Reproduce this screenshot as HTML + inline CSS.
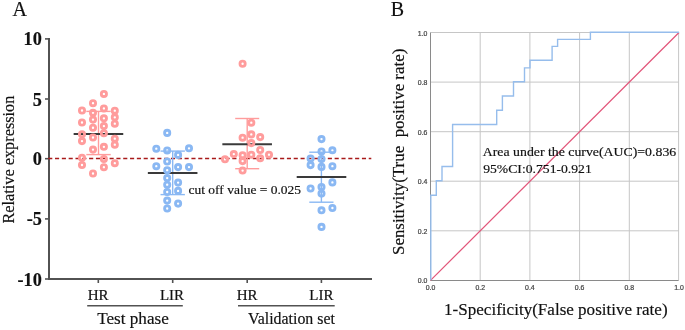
<!DOCTYPE html>
<html><head><meta charset="utf-8"><style>
html,body{margin:0;padding:0;background:#fff;}
svg{display:block;filter:blur(0.4px);}
text{font-family:"Liberation Serif",serif;fill:#111;stroke:#111;stroke-width:0.18px;}
.tk{font-family:"Liberation Sans",sans-serif;font-size:6.9px;fill:#444;stroke:#444;stroke-width:0.22px;}
</style></head><body>
<svg width="685" height="330" viewBox="0 0 685 330">
<rect width="685" height="330" fill="#fff"/>
<line x1="49" y1="38" x2="49" y2="280" stroke="#525252" stroke-width="2"/><line x1="48" y1="279" x2="372" y2="279" stroke="#525252" stroke-width="2"/><line x1="45" y1="38.9" x2="49" y2="38.9" stroke="#525252" stroke-width="1.6"/><line x1="45" y1="99.0" x2="49" y2="99.0" stroke="#525252" stroke-width="1.6"/><line x1="45" y1="158.7" x2="49" y2="158.7" stroke="#525252" stroke-width="1.6"/><line x1="45" y1="218.9" x2="49" y2="218.9" stroke="#525252" stroke-width="1.6"/><line x1="45" y1="279.0" x2="49" y2="279.0" stroke="#525252" stroke-width="1.6"/><line x1="98.3" y1="279" x2="98.3" y2="283" stroke="#525252" stroke-width="1.6"/><line x1="172.7" y1="279" x2="172.7" y2="283" stroke="#525252" stroke-width="1.6"/><line x1="247.2" y1="279" x2="247.2" y2="283" stroke="#525252" stroke-width="1.6"/><line x1="321.4" y1="279" x2="321.4" y2="283" stroke="#525252" stroke-width="1.6"/><text x="41.8" y="45.4" text-anchor="end" font-weight="bold" font-size="18.2">10</text><text x="41.8" y="105.5" text-anchor="end" font-weight="bold" font-size="18.2">5</text><text x="41.8" y="165.2" text-anchor="end" font-weight="bold" font-size="18.2">0</text><text x="41.8" y="225.4" text-anchor="end" font-weight="bold" font-size="18.2">-5</text><text x="41.8" y="285.5" text-anchor="end" font-weight="bold" font-size="18.2">-10</text><line x1="48.2" y1="158.5" x2="371.3" y2="158.5" stroke="#a81a1a" stroke-width="1.7" stroke-dasharray="4.1 2.72"/><g stroke="#ff9c9c" stroke-width="1.4" fill="none"><line x1="98.5" y1="111.4" x2="98.5" y2="154.6"/><line x1="86.3" y1="111.4" x2="110.7" y2="111.4"/><line x1="86.3" y1="154.6" x2="110.7" y2="154.6"/></g><g stroke="#8ab8f3" stroke-width="1.4" fill="none"><line x1="172.7" y1="151.1" x2="172.7" y2="194.6"/><line x1="160.5" y1="151.1" x2="184.89999999999998" y2="151.1"/><line x1="160.5" y1="194.6" x2="184.89999999999998" y2="194.6"/></g><g stroke="#ff9c9c" stroke-width="1.4" fill="none"><line x1="247.2" y1="118.5" x2="247.2" y2="168.7"/><line x1="235.2" y1="118.5" x2="259.2" y2="118.5"/><line x1="235.2" y1="168.7" x2="259.2" y2="168.7"/></g><g stroke="#8ab8f3" stroke-width="1.4" fill="none"><line x1="321.4" y1="152.2" x2="321.4" y2="202.2"/><line x1="309.29999999999995" y1="152.2" x2="333.5" y2="152.2"/><line x1="309.29999999999995" y1="202.2" x2="333.5" y2="202.2"/></g><line x1="73.65" y1="134.0" x2="123.25" y2="134.0" stroke="#3a3a3a" stroke-width="2"/><line x1="147.85" y1="173.0" x2="197.45000000000002" y2="173.0" stroke="#3a3a3a" stroke-width="2"/><line x1="222.35" y1="144.2" x2="271.95" y2="144.2" stroke="#3a3a3a" stroke-width="2"/><line x1="296.7" y1="176.9" x2="346.3" y2="176.9" stroke="#3a3a3a" stroke-width="2"/><g fill="none" stroke="#ff9c9c" stroke-width="2.85"><circle cx="82.0" cy="110.5" r="2.6"/><circle cx="82.0" cy="122.5" r="2.6"/><circle cx="82.0" cy="134.2" r="2.6"/><circle cx="82.0" cy="141.1" r="2.6"/><circle cx="82.0" cy="157.7" r="2.6"/><circle cx="82.0" cy="165.0" r="2.6"/><circle cx="93.0" cy="103.2" r="2.6"/><circle cx="93.0" cy="112.7" r="2.6"/><circle cx="93.0" cy="119.6" r="2.6"/><circle cx="93.0" cy="127.7" r="2.6"/><circle cx="93.0" cy="137.5" r="2.6"/><circle cx="93.0" cy="149.6" r="2.6"/><circle cx="93.0" cy="173.5" r="2.6"/><circle cx="103.9" cy="93.9" r="2.6"/><circle cx="103.9" cy="108.4" r="2.6"/><circle cx="103.9" cy="118.3" r="2.6"/><circle cx="103.9" cy="126.1" r="2.6"/><circle cx="103.9" cy="133.2" r="2.6"/><circle cx="103.9" cy="146.8" r="2.6"/><circle cx="103.9" cy="159.0" r="2.6"/><circle cx="103.9" cy="167.2" r="2.6"/><circle cx="114.8" cy="110.7" r="2.6"/><circle cx="114.8" cy="117.3" r="2.6"/><circle cx="114.8" cy="123.7" r="2.6"/><circle cx="114.8" cy="138.7" r="2.6"/><circle cx="114.8" cy="144.7" r="2.6"/><circle cx="114.8" cy="163.2" r="2.6"/></g><g fill="none" stroke="#8ab8f3" stroke-width="2.85"><circle cx="156.3" cy="148.7" r="2.6"/><circle cx="156.3" cy="166.2" r="2.6"/><circle cx="167.2" cy="132.9" r="2.6"/><circle cx="167.2" cy="150.5" r="2.6"/><circle cx="167.2" cy="161.5" r="2.6"/><circle cx="167.2" cy="170.2" r="2.6"/><circle cx="167.2" cy="178.1" r="2.6"/><circle cx="167.2" cy="184.7" r="2.6"/><circle cx="167.2" cy="192.0" r="2.6"/><circle cx="167.2" cy="200.6" r="2.6"/><circle cx="167.2" cy="208.5" r="2.6"/><circle cx="178.1" cy="154.9" r="2.6"/><circle cx="178.1" cy="167.1" r="2.6"/><circle cx="178.1" cy="182.6" r="2.6"/><circle cx="178.1" cy="190.9" r="2.6"/><circle cx="178.1" cy="203.6" r="2.6"/><circle cx="189.0" cy="148.3" r="2.6"/><circle cx="189.0" cy="167.1" r="2.6"/></g><g fill="none" stroke="#ff9c9c" stroke-width="2.85"><circle cx="225.0" cy="159.3" r="2.6"/><circle cx="233.8" cy="154.1" r="2.6"/><circle cx="242.6" cy="63.7" r="2.6"/><circle cx="242.6" cy="137.7" r="2.6"/><circle cx="242.6" cy="155.2" r="2.6"/><circle cx="242.6" cy="161.1" r="2.6"/><circle cx="242.6" cy="170.5" r="2.6"/><circle cx="251.3" cy="122.7" r="2.6"/><circle cx="251.3" cy="134.4" r="2.6"/><circle cx="251.3" cy="143.1" r="2.6"/><circle cx="251.3" cy="154.7" r="2.6"/><circle cx="260.2" cy="137.1" r="2.6"/><circle cx="260.2" cy="150.0" r="2.6"/><circle cx="260.2" cy="158.3" r="2.6"/><circle cx="269.0" cy="154.7" r="2.6"/></g><g fill="none" stroke="#8ab8f3" stroke-width="2.85"><circle cx="310.6" cy="158.5" r="2.6"/><circle cx="310.6" cy="165.1" r="2.6"/><circle cx="310.6" cy="188.5" r="2.6"/><circle cx="321.5" cy="139.1" r="2.6"/><circle cx="321.5" cy="151.5" r="2.6"/><circle cx="321.5" cy="159.1" r="2.6"/><circle cx="321.5" cy="166.9" r="2.6"/><circle cx="321.5" cy="187.1" r="2.6"/><circle cx="321.5" cy="193.6" r="2.6"/><circle cx="321.5" cy="210.3" r="2.6"/><circle cx="321.5" cy="226.9" r="2.6"/><circle cx="332.4" cy="150.3" r="2.6"/><circle cx="332.4" cy="166.2" r="2.6"/><circle cx="332.4" cy="182.4" r="2.6"/><circle cx="332.4" cy="208.0" r="2.6"/></g><text x="12.4" y="15.9" font-size="20">A</text><text x="390.8" y="15.9" font-size="20">B</text><text x="98.1" y="299.5" text-anchor="middle" font-size="15">HR</text><text x="172.0" y="299.5" text-anchor="middle" font-size="15">LIR</text><text x="247.2" y="299.5" text-anchor="middle" font-size="15">HR</text><text x="321.4" y="299.5" text-anchor="middle" font-size="15">LIR</text><line x1="87.2" y1="305.8" x2="182.8" y2="305.8" stroke="#525252" stroke-width="1.5"/><line x1="238" y1="305.8" x2="334.7" y2="305.8" stroke="#525252" stroke-width="1.5"/><text x="97.2" y="324.1" font-size="17" textLength="71.6" lengthAdjust="spacingAndGlyphs">Test phase</text><text x="248" y="324" font-size="17" textLength="86.9" lengthAdjust="spacingAndGlyphs">Validation set</text><text transform="translate(14.1,223.6) rotate(-90)" font-size="17" textLength="128" lengthAdjust="spacingAndGlyphs">Relative expression</text><text x="188.5" y="194" font-size="13.5" textLength="112.6" lengthAdjust="spacingAndGlyphs">cut off value = 0.025</text>
<line x1="480.2" y1="32.5" x2="480.2" y2="280.4" stroke="#c6c6c6" stroke-width="1"/><line x1="430.5" y1="230.8" x2="679.0" y2="230.8" stroke="#c6c6c6" stroke-width="1"/><line x1="529.9" y1="32.5" x2="529.9" y2="280.4" stroke="#c6c6c6" stroke-width="1"/><line x1="430.5" y1="181.2" x2="679.0" y2="181.2" stroke="#c6c6c6" stroke-width="1"/><line x1="579.6" y1="32.5" x2="579.6" y2="280.4" stroke="#c6c6c6" stroke-width="1"/><line x1="430.5" y1="131.7" x2="679.0" y2="131.7" stroke="#c6c6c6" stroke-width="1"/><line x1="629.3" y1="32.5" x2="629.3" y2="280.4" stroke="#c6c6c6" stroke-width="1"/><line x1="430.5" y1="82.1" x2="679.0" y2="82.1" stroke="#c6c6c6" stroke-width="1"/><line x1="430.5" y1="32.5" x2="679.0" y2="32.5" stroke="#c6c6c6" stroke-width="1"/><line x1="678.6" y1="32.5" x2="678.6" y2="280.4" stroke="#c6c6c6" stroke-width="1"/><line x1="430.5" y1="32.5" x2="430.5" y2="280.4" stroke="#8a8a8a" stroke-width="1"/><line x1="430.5" y1="280.5" x2="678.6" y2="280.5" stroke="#8a8a8a" stroke-width="1.2"/><line x1="430.5" y1="280.4" x2="679.0" y2="32.5" stroke="#e2567a" stroke-width="1.25"/><path d="M 430.8 280 V 195.3 H 436.3 V 180.8 H 442 V 166.5 H 452.6 V 124.5 H 496.7 V 110.2 H 502.4 V 96 H 513.5 V 81.8 H 524.5 V 67.9 H 530 V 60.3 H 552.1 V 46.4 H 557.6 V 39.4 H 590.4 V 32.3 H 679" fill="none" stroke="#96bdec" stroke-width="1.4"/><text x="430.5" y="290.2" text-anchor="middle" class="tk">0.0</text><text x="427.4" y="283.4" text-anchor="end" class="tk">0.0</text><text x="480.2" y="290.2" text-anchor="middle" class="tk">0.2</text><text x="427.4" y="233.8" text-anchor="end" class="tk">0.2</text><text x="529.9" y="290.2" text-anchor="middle" class="tk">0.4</text><text x="427.4" y="184.2" text-anchor="end" class="tk">0.4</text><text x="579.6" y="290.2" text-anchor="middle" class="tk">0.6</text><text x="427.4" y="134.7" text-anchor="end" class="tk">0.6</text><text x="629.3" y="290.2" text-anchor="middle" class="tk">0.8</text><text x="427.4" y="85.1" text-anchor="end" class="tk">0.8</text><text x="679.0" y="290.2" text-anchor="middle" class="tk">1.0</text><text x="427.4" y="35.5" text-anchor="end" class="tk">1.0</text><text x="482.8" y="156.2" font-size="13.2" stroke="#111" stroke-width="0.2" textLength="193.4" lengthAdjust="spacingAndGlyphs">Area under the curve(AUC)=0.836</text><text x="483.2" y="172.7" font-size="13.2" stroke="#111" stroke-width="0.2" textLength="108.6" lengthAdjust="spacingAndGlyphs">95%CI:0.751-0.921</text><text x="444.1" y="314.9" font-size="17" stroke="#111" stroke-width="0.3" textLength="223.5" lengthAdjust="spacingAndGlyphs">1-Specificity(False positive rate)</text><text transform="translate(403.7,255) rotate(-90)" font-size="17.4" stroke="#111" stroke-width="0.3" textLength="206.3" lengthAdjust="spacingAndGlyphs" xml:space="preserve">Sensitivity(True  positive rate)</text>
</svg>
</body></html>
